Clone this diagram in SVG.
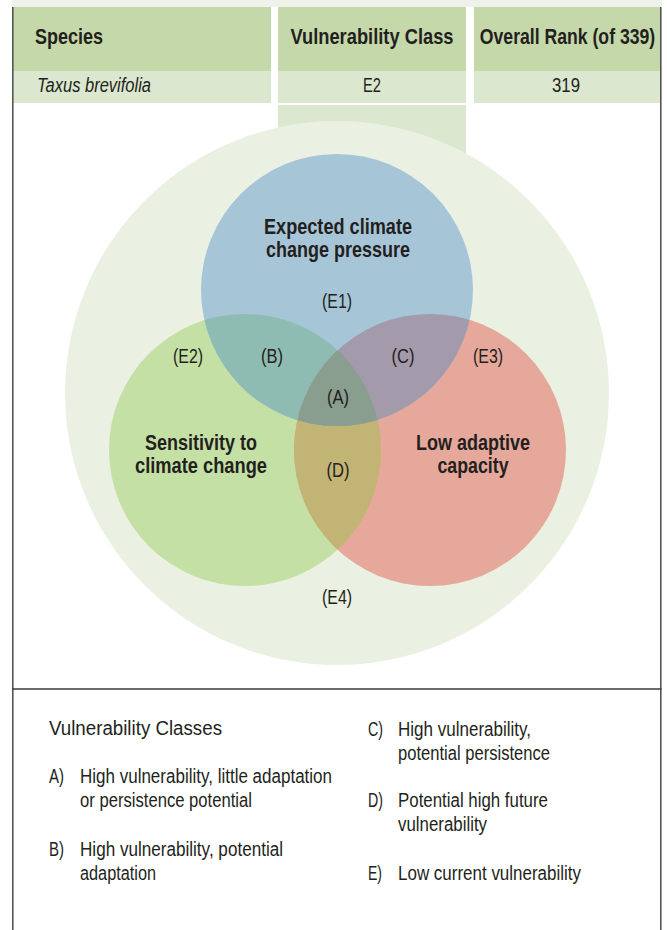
<svg xmlns="http://www.w3.org/2000/svg" width="667" height="930" viewBox="0 0 667 930">
<style>
.hb{font-family:"Liberation Sans Narrow","Liberation Sans",Arial,sans-serif;font-weight:bold;font-size:21.5px;fill:#231f20}
.rg{font-family:"Liberation Sans Narrow","Liberation Sans",Arial,sans-serif;font-size:20.5px;fill:#231f20}
.it{font-style:italic}
.lg{font-family:"Liberation Sans Narrow","Liberation Sans",Arial,sans-serif;font-size:20px;fill:#231f20}
.mid{text-anchor:middle}
.border{stroke:#555;stroke-width:1.6;fill:none}
</style>
<defs>
<clipPath id="cpBlue"><circle cx="337" cy="290" r="136"/></clipPath>
<clipPath id="cpGreen"><circle cx="245" cy="450" r="136"/></clipPath>
<clipPath id="cpRed"><circle cx="430" cy="450" r="136"/></clipPath>
</defs>
<rect x="0" y="0" width="667" height="930" fill="#ffffff"/>
<rect x="12" y="0" width="650" height="7" fill="#eff2ea"/>
<g id="table">
<rect x="12" y="7" width="259" height="64" fill="#c5d8a9"/>
<rect x="278" y="7" width="188" height="64" fill="#c5d8a9"/>
<rect x="474" y="7" width="186" height="64" fill="#c5d8a9"/>
<rect x="12" y="71" width="259" height="32" fill="#dce7cf"/>
<rect x="278" y="71" width="188" height="32" fill="#dce7cf"/>
<rect x="474" y="71" width="186" height="32" fill="#dce7cf"/>
<rect x="278" y="105" width="188" height="60" fill="#dce7cf"/>
<text class="hb" x="35" y="44" textLength="68" lengthAdjust="spacingAndGlyphs">Species</text>
<text class="hb mid" x="372" y="44" textLength="163" lengthAdjust="spacingAndGlyphs">Vulnerability Class</text>
<text class="hb mid" transform="translate(567.5,44) scale(0.82,1)" x="0" y="0">Overall Rank (of 339)</text>
<text class="rg it" x="37" y="92" textLength="114" lengthAdjust="spacingAndGlyphs">Taxus brevifolia</text>
<text class="rg mid" x="372" y="92" textLength="18" lengthAdjust="spacingAndGlyphs">E2</text>
<text class="rg mid" x="566" y="92" textLength="28" lengthAdjust="spacingAndGlyphs">319</text>
</g>
<g id="outer">
<circle cx="337" cy="393" r="272" fill="#ebf1e2"/>
</g>
<g id="sensitivity">
<circle cx="245" cy="450" r="136" fill="#c5e0a5"/>
</g>
<g id="adaptive">
<circle cx="430" cy="450" r="136" fill="#e5a89a"/>
</g>
<g id="pressure">
<circle cx="337" cy="290" r="136" fill="#a6c6d8"/>
</g>
<g id="overlaps">
<circle cx="245" cy="450" r="136" fill="#c1b474" clip-path="url(#cpRed)"/>
<circle cx="245" cy="450" r="136" fill="#8fbcb2" clip-path="url(#cpBlue)"/>
<circle cx="430" cy="450" r="136" fill="#a39aab" clip-path="url(#cpBlue)"/>
<g clip-path="url(#cpBlue)"><circle cx="430" cy="450" r="136" fill="#8a9e8f" clip-path="url(#cpGreen)"/></g>
</g>
<g id="labels">
<text class="hb mid" x="338" y="234" textLength="148" lengthAdjust="spacingAndGlyphs">Expected climate</text>
<text class="hb mid" x="338" y="257" textLength="144" lengthAdjust="spacingAndGlyphs">change pressure</text>
<text class="hb mid" x="201" y="450" textLength="112" lengthAdjust="spacingAndGlyphs">Sensitivity to</text>
<text class="hb mid" x="201" y="473" textLength="132" lengthAdjust="spacingAndGlyphs">climate change</text>
<text class="hb mid" x="473" y="450" textLength="114" lengthAdjust="spacingAndGlyphs">Low adaptive</text>
<text class="hb mid" x="473" y="473" textLength="71" lengthAdjust="spacingAndGlyphs">capacity</text>
<text class="rg mid" x="337" y="308" textLength="30" lengthAdjust="spacingAndGlyphs">(E1)</text>
<text class="rg mid" x="188" y="363" textLength="30" lengthAdjust="spacingAndGlyphs">(E2)</text>
<text class="rg mid" x="272" y="363" textLength="22" lengthAdjust="spacingAndGlyphs">(B)</text>
<text class="rg mid" x="403" y="363" textLength="23" lengthAdjust="spacingAndGlyphs">(C)</text>
<text class="rg mid" x="488" y="363" textLength="30" lengthAdjust="spacingAndGlyphs">(E3)</text>
<text class="rg mid" x="338" y="404" textLength="22" lengthAdjust="spacingAndGlyphs">(A)</text>
<text class="rg mid" x="338" y="477" textLength="23" lengthAdjust="spacingAndGlyphs">(D)</text>
<text class="rg mid" x="337" y="604" textLength="30" lengthAdjust="spacingAndGlyphs">(E4)</text>
</g>
<g id="frame">
<line class="border" x1="12.8" y1="7" x2="12.8" y2="930"/>
<line class="border" x1="660.8" y1="7" x2="660.8" y2="930"/>
<line x1="12" y1="689" x2="661.5" y2="689" stroke="#3a3a3a" stroke-width="1.6"/>
</g>
<g id="legend">
<text class="lg" x="49" y="735" textLength="173" lengthAdjust="spacingAndGlyphs">Vulnerability Classes</text>
<text class="lg" x="49" y="783" textLength="15" lengthAdjust="spacingAndGlyphs">A)</text>
<text class="lg" x="80" y="783" textLength="252" lengthAdjust="spacingAndGlyphs">High vulnerability, little adaptation</text>
<text class="lg" x="80" y="807" textLength="172" lengthAdjust="spacingAndGlyphs">or persistence potential</text>
<text class="lg" x="49" y="856" textLength="15" lengthAdjust="spacingAndGlyphs">B)</text>
<text class="lg" x="80" y="856" textLength="203" lengthAdjust="spacingAndGlyphs">High vulnerability, potential</text>
<text class="lg" x="80" y="880" textLength="76" lengthAdjust="spacingAndGlyphs">adaptation</text>
<text class="lg" x="368" y="736" textLength="15" lengthAdjust="spacingAndGlyphs">C)</text>
<text class="lg" x="398" y="736" textLength="133" lengthAdjust="spacingAndGlyphs">High vulnerability,</text>
<text class="lg" x="398" y="760" textLength="152" lengthAdjust="spacingAndGlyphs">potential persistence</text>
<text class="lg" x="368" y="807" textLength="15" lengthAdjust="spacingAndGlyphs">D)</text>
<text class="lg" x="398" y="807" textLength="150" lengthAdjust="spacingAndGlyphs">Potential high future</text>
<text class="lg" x="398" y="831" textLength="89" lengthAdjust="spacingAndGlyphs">vulnerability</text>
<text class="lg" x="368" y="880" textLength="14" lengthAdjust="spacingAndGlyphs">E)</text>
<text class="lg" x="398" y="880" textLength="183" lengthAdjust="spacingAndGlyphs">Low current vulnerability</text>
</g>
</svg>
